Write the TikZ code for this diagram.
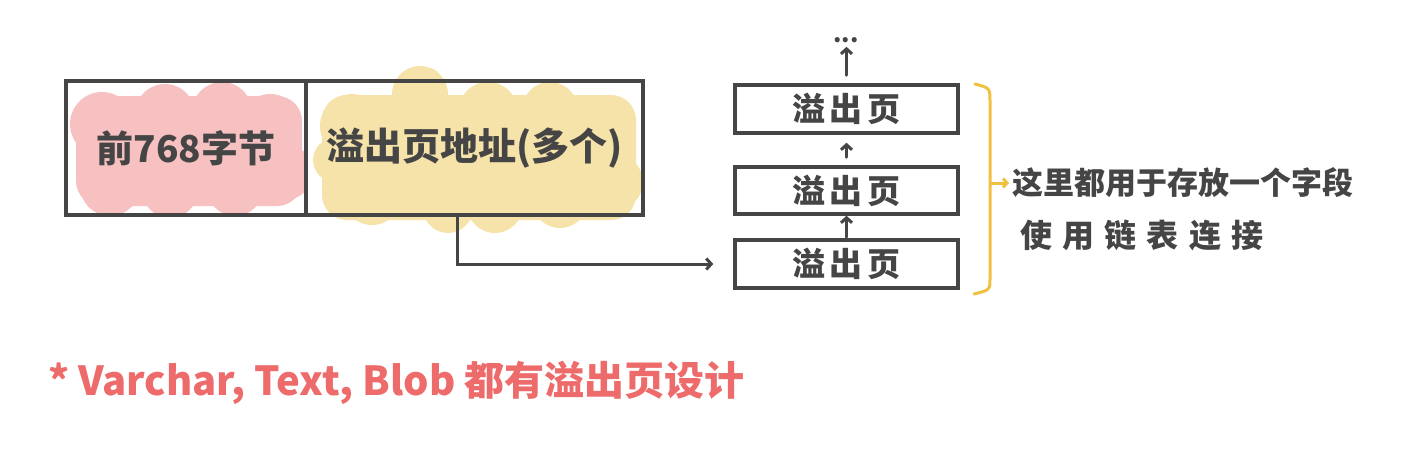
\documentclass[tikz,border=0pt]{standalone}
\usepackage{fontspec}
\setmainfont{Noto Sans CJK SC}
\usetikzlibrary{arrows.meta}
\definecolor{ink}{HTML}{454545}
\definecolor{pinkblob}{HTML}{F6C1C0}
\definecolor{yellowblob}{HTML}{F6E3AA}
\definecolor{bracecol}{HTML}{F0C040}
\definecolor{redtext}{HTML}{EE6B6B}
\tikzset{
  cell/.style={draw=ink, line width=3.5pt, inner sep=0pt, text=ink},
  page/.style={draw=ink, line width=3.5pt, minimum width=223pt, inner sep=0pt, font=\fontsize{33}{35}\selectfont\bfseries\addfontfeature{LetterSpace=14}, text=ink},
  link/.style={draw=ink, line width=3pt, line cap=round, -{Straight Barb[length=5pt,width=11pt,line width=3pt]}},
  note/.style={text=ink, inner sep=0pt, anchor=west},
}
\begin{document}
\begin{tikzpicture}[x=1pt,y=-1pt]
\useasboundingbox (0,0) rectangle (1408,450);
% blobs
\begin{scope}
\clip (68,83) rectangle (305,213);
\fill[pinkblob, rounded corners=25pt] (76,96) rectangle (302,206);
\foreach \x/\y/\r in {102/124/32, 165/114/30, 222/112/30, 270/124/30, 285/172/28, 235/188/28, 170/190/28, 110/186/30}
  \fill[pinkblob] (\x,\y) circle[radius=\r];
\end{scope}
\fill[yellowblob, rounded corners=25pt] (322,95) rectangle (636,220);
\foreach \x/\y/\r in {352/126/32, 420/94/28, 428/82/14, 488/112/30, 550/110/28, 605/130/30, 615/182/28, 560/200/28, 495/205/28, 448/208/25, 372/195/30, 335/160/22}
  \fill[yellowblob] (\x,\y) circle[radius=\r];
% record
\node[cell, minimum width=240pt, minimum height=134pt, font=\fontsize{37}{39}\selectfont\bfseries] (c1) at (186,148) {前768字节};
\node[cell, minimum width=337pt, minimum height=134pt, font=\fontsize{38}{40}\selectfont\bfseries] (c2) at (474.5,148) {溢出页地址(多个)};
% overflow pages
\node[page, minimum height=48pt] (b1) at (846.5,109) {溢出页};
\node[page, minimum height=47pt] (b2) at (846.5,190.5) {溢出页};
\node[page, minimum height=48pt] (b3) at (846.5,264) {溢出页};
\node[text=ink, font=\fontsize{24}{24}\selectfont\bfseries, inner sep=0pt] (dots) at (846,40) {...};
% connectors
\coordinate (start) at (457,215);
\draw[link, shorten >=20pt] (start) |- (b3.west);
\draw[link, shorten <=1pt] (b3.north) -- (b2.south);
\draw[link, shorten <=8pt, shorten >=8pt] (b2.north) -- (b1.south);
\draw[link, shorten <=8pt, shorten >=4pt] (b1.north) -- (b1.north |- dots.south);
% brace
\draw[bracecol, line width=3pt, line cap=round] (975,84) .. controls (990,88) .. (990,102) -- (990,278) .. controls (990,290) .. (974,294);
\node[note, font=\fontsize{31}{33}\selectfont\bfseries] (t1) at (1012,183) {这里都用于存放一个字段};
\node[note, font=\fontsize{32}{34}\selectfont\bfseries\addfontfeature{LetterSpace=32}] (t2) at (1020,235) {使用链表连接};
\draw[bracecol, line width=3pt, -{Straight Barb[length=4pt,width=9pt,line width=3pt]}, shorten >=3pt] (990,183) -- (t1.west);
% footnote
\node[text=redtext, font=\fontsize{40}{42}\selectfont\bfseries, inner sep=0pt, anchor=west] (foot) at (48,383) {* Varchar, Text, Blob 都有溢出页设计};
\end{tikzpicture}
\end{document}
